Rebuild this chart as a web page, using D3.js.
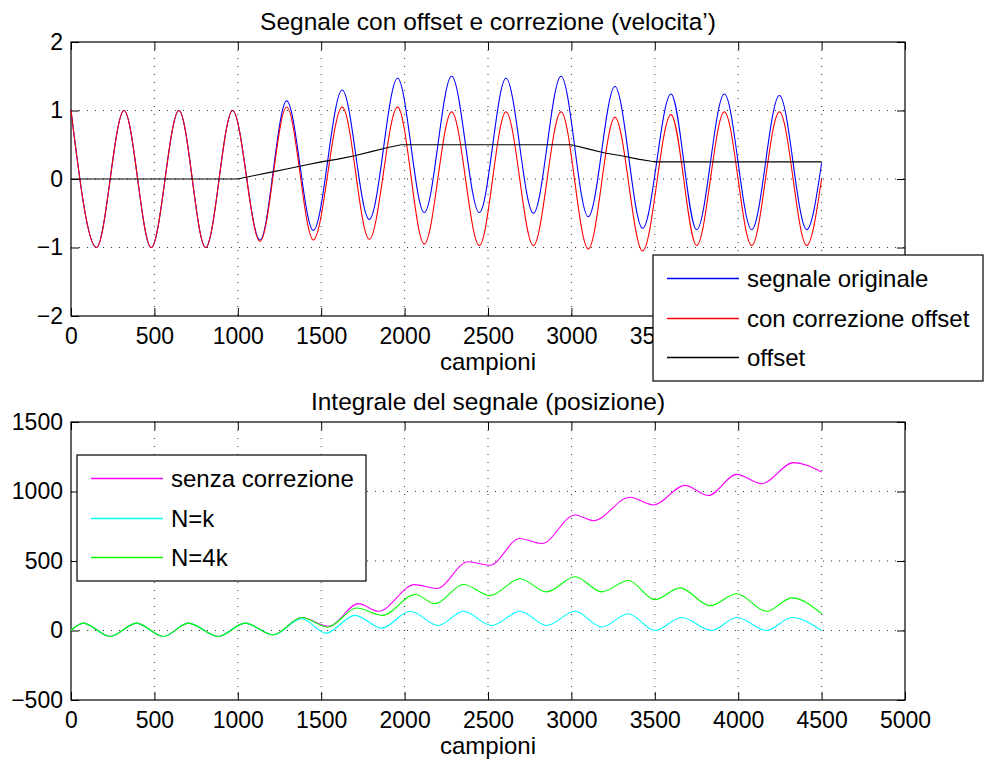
<!DOCTYPE html>
<html>
<head>
<meta charset="utf-8">
<script src="https://cdn.jsdelivr.net/npm/d3@7"></script>
<style>
  body { margin: 0; background: #fff; }
  svg { font-family: "Liberation Sans", Arial, Helvetica, sans-serif; }
  .tick text { font-size: 23px; fill: #000; }
</style>
</head>
<body>
<svg id="chart" width="985" height="764"></svg>
<script>
// --- top panel: velocity signal (peaks / troughs)
const velX = [0, 152, 318, 481, 647, 807, 969, 1133, 1293, 1453, 1626, 1788, 1958, 2118, 2282,
  2448, 2608, 2772, 2938, 3101, 3261, 3427, 3597, 3751, 3917, 4081, 4247, 4411, 4500];
const originale = [1, -1, 1, -1, 1, -1, 1, -0.89, 1.14, -0.75, 1.30, -0.59, 1.47, -0.49, 1.50,
  -0.49, 1.47, -0.50, 1.50, -0.55, 1.35, -0.72, 1.24, -0.74, 1.24, -0.74, 1.22, -0.74, 0.23];
const corretto = [1, -1, 1, -1, 1, -1, 1, -0.91, 1.05, -0.89, 1.05, -0.88, 1.05, -0.95, 0.98,
  -0.97, 0.98, -0.97, 0.98, -1.02, 0.90, -1.05, 0.94, -0.97, 0.98, -0.97, 0.98, -0.97, 0.0];
const offsetX = [0, 1000, 1100, 1200, 1300, 1400, 1500, 1600, 1700, 1800, 1900, 1980,
  3000, 3100, 3200, 3300, 3400, 3480, 3520, 4500];
const offsetV = [0, 0, 0.05, 0.10, 0.15, 0.20, 0.25, 0.29, 0.34, 0.40, 0.46, 0.50,
  0.50, 0.44, 0.38, 0.34, 0.29, 0.26, 0.25, 0.25];

// --- bottom panel: integral (position)
const senzaX = [0, 74, 234, 393, 553, 703, 883, 1043, 1213, 1383, 1545, 1723, 1843, 2060, 2192,
  2380, 2511, 2690, 2822, 3022, 3132, 3351, 3491, 3681, 3821, 3991, 4141, 4331, 4500];
const senzaV = [0, 53, -43, 53, -43, 53, -43, 53, -31, 94, 30, 193, 138, 330, 302,
  495, 469, 662, 626, 831, 790, 959, 903, 1044, 971, 1123, 1056, 1208, 1140];
const nkX = [0, 74, 234, 393, 553, 703, 883, 1043, 1213, 1383, 1528, 1703, 1863, 2033, 2202,
  2352, 2522, 2692, 2852, 3022, 3182, 3341, 3501, 3661, 3841, 3991, 4171, 4321, 4500];
const nkV = [0, 53, -43, 53, -43, 53, -43, 53, -31, 85, -19, 109, 17, 138, 36,
  138, 36, 138, 36, 138, 25, 121, 0, 94, 0, 94, 0, 94, 0];
const n4kX = [0, 74, 234, 393, 553, 703, 883, 1043, 1213, 1383, 1540, 1713, 1868, 2063, 2183,
  2352, 2512, 2692, 2852, 3022, 3182, 3341, 3501, 3651, 3831, 3991, 4171, 4321, 4500];
const n4kV = [0, 53, -43, 53, -43, 53, -43, 53, -31, 94, 25, 162, 109, 259, 193,
  331, 251, 372, 278, 387, 278, 360, 222, 307, 179, 264, 138, 235, 121];

const xTicks = [0, 500, 1000, 1500, 2000, 2500, 3000, 3500, 4000, 4500, 5000];
const yTicksTop = [-2, -1, 0, 1, 2];
const yTicksBot = [-500, 0, 500, 1000, 1500];

const svg = d3.select("#chart");
const left = 71, right = 905;
const minus = v => String(v).replace("-", "\u2212");

function panel(top, bottom, yDomain, yTicks, title, series, legendItems, legendBox) {
  const x = d3.scaleLinear().domain([0, 5000]).range([left, right]);
  const y = d3.scaleLinear().domain(yDomain).range([bottom, top]);
  const g = svg.append("g");

  // dotted grid
  g.append("g").selectAll("line").data(xTicks.slice(1, -1)).join("line")
    .attr("x1", d => x(d)).attr("x2", d => x(d)).attr("y1", top).attr("y2", bottom)
    .attr("stroke", "#000").attr("stroke-width", 0.8).attr("stroke-dasharray", "1,7");
  g.append("g").selectAll("line").data(yTicks.slice(1, -1)).join("line")
    .attr("x1", left).attr("x2", right).attr("y1", d => y(d)).attr("y2", d => y(d))
    .attr("stroke", "#000").attr("stroke-width", 0.8).attr("stroke-dasharray", "1,7");

  // axes, ticks pointing inward on all four sides
  const xAxis = g.append("g").attr("transform", `translate(0,${bottom})`)
    .call(d3.axisBottom(x).tickValues(xTicks).tickSize(-8).tickPadding(12).tickFormat(d3.format("d")));
  g.append("g").attr("transform", `translate(0,${top})`)
    .call(d3.axisTop(x).tickValues(xTicks).tickSize(-8).tickFormat(""));
  g.append("g").attr("transform", `translate(${left},0)`)
    .call(d3.axisLeft(y).tickValues(yTicks).tickSize(-8).tickPadding(8).tickFormat(minus));
  g.append("g").attr("transform", `translate(${right},0)`)
    .call(d3.axisRight(y).tickValues(yTicks).tickSize(-8).tickFormat(""));
  g.selectAll(".domain").remove();
  g.selectAll(".tick line").attr("stroke", "#000");

  // labels that sit completely under the legend box are not visible in the original
  xAxis.selectAll(".tick text")
    .filter(d => x(d) - 20 > legendBox.x && bottom + 30 < legendBox.y + legendBox.h)
    .remove();

  g.append("rect")
    .attr("x", left).attr("y", top).attr("width", right - left).attr("height", bottom - top)
    .attr("fill", "none").attr("stroke", "#000").attr("stroke-width", 1.2);

  series.forEach(s => {
    const line = d3.line()
      .x((d, i) => x(s.xs[i]))
      .y(d => y(d))
      .curve(s.curve || d3.curveMonotoneX);
    g.append("path")
      .attr("d", line(s.ys))
      .attr("fill", "none")
      .attr("stroke", s.color)
      .attr("stroke-width", 1.1);
  });

  g.append("text")
    .attr("x", (left + right) / 2).attr("y", top - 12)
    .attr("text-anchor", "middle").style("font-size", "24.5px")
    .text(title);

  g.append("text")
    .attr("x", (left + right) / 2).attr("y", bottom + 54)
    .attr("text-anchor", "middle").style("font-size", "24px")
    .text("campioni");

  // legend
  const lg = svg.append("g");
  lg.append("rect")
    .attr("x", legendBox.x).attr("y", legendBox.y)
    .attr("width", legendBox.w).attr("height", legendBox.h)
    .attr("fill", "#fff").attr("stroke", "#000").attr("stroke-width", 1.2);
  legendItems.forEach((it, i) => {
    const cy = Math.round(legendBox.y + 23 + i * 39.5) + 0.5;
    lg.append("line")
      .attr("x1", legendBox.x + 14).attr("x2", legendBox.x + 86)
      .attr("y1", cy).attr("y2", cy)
      .attr("stroke", it.color).attr("stroke-width", 1.3);
    lg.append("text")
      .attr("x", legendBox.x + 94).attr("y", cy + 8)
      .style("font-size", "24px")
      .text(it.label);
  });
}

panel(42, 316, [-2, 2], yTicksTop, "Segnale con offset e correzione (velocita\u2019)",
  [
    { xs: velX, ys: originale, color: "#0000ff" },
    { xs: velX, ys: corretto, color: "#ff0000" },
    { xs: offsetX, ys: offsetV, color: "#000000", curve: d3.curveLinear }
  ],
  [
    { label: "segnale originale", color: "#0000ff" },
    { label: "con correzione offset", color: "#ff0000" },
    { label: "offset", color: "#000000" }
  ],
  { x: 653, y: 255, w: 330, h: 126 });

panel(422, 700, [-500, 1500], yTicksBot, "Integrale del segnale (posizione)",
  [
    { xs: senzaX, ys: senzaV, color: "#ff00ff" },
    { xs: nkX, ys: nkV, color: "#00ffff" },
    { xs: n4kX, ys: n4kV, color: "#00ff00" }
  ],
  [
    { label: "senza correzione", color: "#ff00ff" },
    { label: "N=k", color: "#00ffff" },
    { label: "N=4k", color: "#00ff00" }
  ],
  { x: 77, y: 455, w: 289, h: 126 });
</script>
</body>
</html>
